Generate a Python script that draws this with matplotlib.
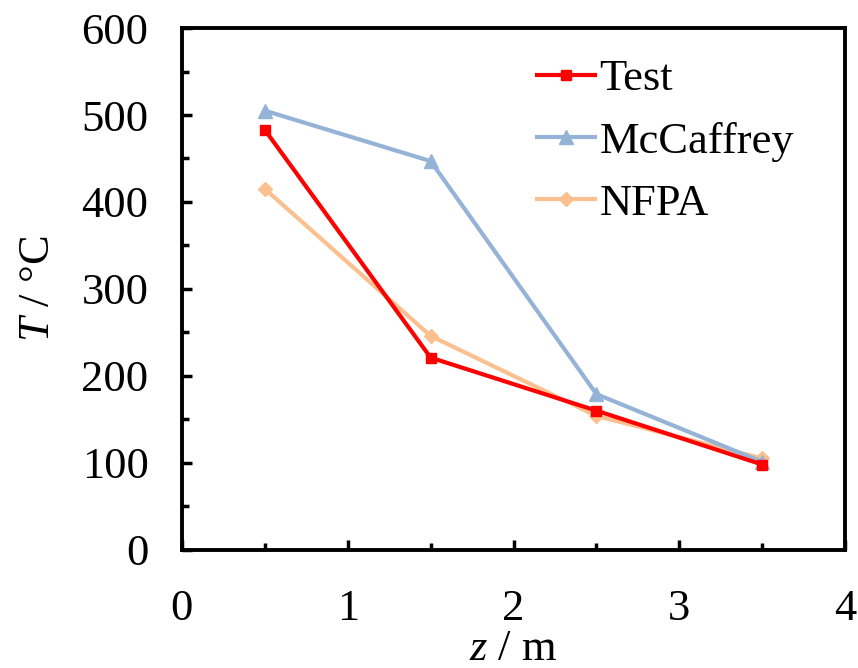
import matplotlib
matplotlib.use("Agg")
import matplotlib.pyplot as plt
from matplotlib.ticker import MultipleLocator

plt.rcParams.update({
    "font.family": "serif",
    "font.serif": ["Liberation Serif", "DejaVu Serif"],
    "mathtext.fontset": "custom",
    "mathtext.it": "Liberation Serif:italic",
    "mathtext.rm": "Liberation Serif",
})

# data
z = [0.5, 1.5, 2.5, 3.5]
test = [483, 221, 160, 98]
mccaffrey = [505, 447, 179, 101]
nfpa = [415, 246, 154, 105]

RED = "#FF0000"
BLUE = "#95B3D7"
ORANGE = "#FAC090"
FS = 32

fig = plt.figure(figsize=(8.58, 6.68), dpi=100)
ax = fig.add_axes([0.212, 0.177, 0.773, 0.781])

ax.plot(z, test, color=RED, lw=3, marker="s", ms=7, label="Test", zorder=4)
ax.plot(z, mccaffrey, color=BLUE, lw=3, marker="^", ms=10, label="McCaffrey", zorder=3)
ax.plot(z, nfpa, color=ORANGE, lw=3, marker="D", ms=7, label="NFPA", zorder=2)

ax.set_xlim(0, 4)
ax.set_ylim(0, 600)
ax.xaxis.set_major_locator(MultipleLocator(1))
ax.xaxis.set_minor_locator(MultipleLocator(0.5))
ax.yaxis.set_major_locator(MultipleLocator(100))
ax.yaxis.set_minor_locator(MultipleLocator(50))
ax.tick_params(which="major", direction="in", length=7, width=2.5, labelsize=FS)
ax.tick_params(which="minor", direction="in", length=5, width=2.5)
ax.tick_params(axis="y", which="both", left=True, right=False, pad=24)
ax.tick_params(axis="x", which="both", top=False, pad=28)
for s in ax.spines.values():
    s.set_linewidth(2.8)

ax.set_xlabel(r"$\mathit{z}$ / m", fontsize=FS, labelpad=0)
ax.set_ylabel(r"$\mathit{T}$ / °C", fontsize=FS, labelpad=17)

ax.legend(loc="upper right", frameon=False, fontsize=FS, handlelength=1.3,
          handletextpad=0.1, labelspacing=0.5, bbox_to_anchor=(0.97, 1.0),
          borderaxespad=0.3)

fig.savefig("out.png", dpi=100, facecolor="white")
